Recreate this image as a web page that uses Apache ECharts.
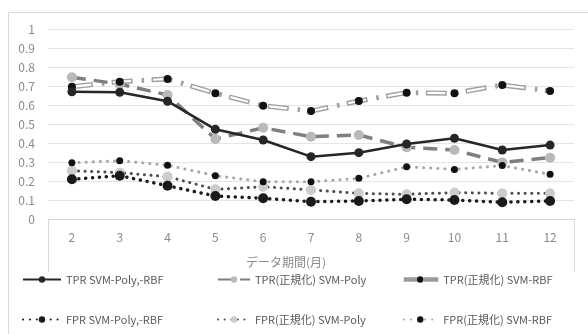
<!DOCTYPE html>
<html>
<head>
<meta charset="utf-8">
<script src="https://cdn.jsdelivr.net/npm/echarts@6/dist/echarts.min.js"></script>
<style>
  html, body { margin: 0; padding: 0; background: #ffffff; }
  #chart { width: 588px; height: 334px; }
</style>
</head>
<body>
<div id="chart"></div>
<script>
// Data period in months
const months = ['2', '3', '4', '5', '6', '7', '8', '9', '10', '11', '12'];
const yTicks = [0, 0.1, 0.2, 0.3, 0.4, 0.5, 0.6, 0.7, 0.8, 0.9, 1];

const tprPolyRbf     = [0.67, 0.667, 0.62, 0.472, 0.416, 0.328, 0.349, 0.395, 0.425, 0.363, 0.389];
const tprNormPoly    = [0.746, 0.71, 0.653, 0.421, 0.48, 0.433, 0.442, 0.377, 0.363, 0.298, 0.323];
const tprNormRbf     = [0.696, 0.723, 0.737, 0.662, 0.596, 0.568, 0.621, 0.665, 0.662, 0.705, 0.674];
const fprPolyRbf     = [0.209, 0.228, 0.175, 0.121, 0.109, 0.091, 0.095, 0.104, 0.1, 0.088, 0.095];
const fprNormPoly    = [0.254, 0.244, 0.223, 0.156, 0.17, 0.153, 0.135, 0.13, 0.139, 0.135, 0.135];
const fprNormRbf     = [0.296, 0.307, 0.283, 0.228, 0.196, 0.196, 0.214, 0.275, 0.261, 0.281, 0.235];

const names = [
  'TPR SVM-Poly,-RBF', 'TPR(正規化) SVM-Poly', 'TPR(正規化) SVM-RBF',
  'FPR SVM-Poly,-RBF', 'FPR(正規化) SVM-Poly', 'FPR(正規化) SVM-RBF'
];

const FONT = '"Noto Sans CJK JP", "Noto Sans", sans-serif';
const chart = echarts.init(document.getElementById('chart'), null, { renderer: 'canvas' });

const legendText = { color: '#595959', fontSize: 11, fontFamily: FONT };
function legendBlock(left, w, items) {
  return {
    orient: 'vertical', left: left, top: 274, itemGap: 29, padding: 0,
    itemWidth: w, itemHeight: 8, textStyle: legendText,
    data: items
  };
}

const option = {
  animation: false,
  backgroundColor: '#ffffff',
  grid: { left: 48, right: 14, top: 29, bottom: 115, containLabel: false },
  xAxis: {
    type: 'category', data: months, boundaryGap: true,
    axisLine: { show: true, lineStyle: { color: '#d4d4d4', width: 1 } },
    axisTick: { show: false },
    axisLabel: { color: '#8a8a8a', fontSize: 12, fontFamily: FONT, margin: 12 }
  },
  yAxis: {
    type: 'value', min: yTicks[0], max: yTicks[yTicks.length - 1], interval: 0.1,
    axisLine: { show: false }, axisTick: { show: false },
    axisLabel: { color: '#8a8a8a', fontSize: 12, fontFamily: FONT, margin: 13,
      formatter: v => String(Math.round(v * 10) / 10) },
    splitLine: { lineStyle: { color: '#e4e4e4', width: 1 } }
  },
  legend: [
    legendBlock(22, 38, [names[0], names[3]]),
    legendBlock(217, 32, [names[1], names[4]]),
    legendBlock(400, 36, [
      { name: names[2], lineStyle: { color: '#9a9a9a', width: 4.5, type: [16, 4] } },
      names[5]
    ])
  ],
  graphic: [
    { type: 'rect', shape: { x: 8.5, y: 12.5, width: 600, height: 400 },
      style: { fill: 'none', stroke: '#d9d9d9', lineWidth: 1 }, silent: true, z: -10 },
    { type: 'line', shape: { x1: 48.5, y1: 219, x2: 48.5, y2: 272 },
      style: { stroke: '#d9d9d9', lineWidth: 1 }, silent: true },
    { type: 'line', shape: { x1: 574.5, y1: 219, x2: 574.5, y2: 272 },
      style: { stroke: '#d9d9d9', lineWidth: 1 }, silent: true },
    { type: 'text', left: 246, top: 256,
      style: { text: 'データ期間(月)', fill: '#8a8a8a', fontSize: 12, fontFamily: FONT } }
  ],
  series: [
    {
      name: names[0], type: 'line', data: tprPolyRbf, z: 4,
      symbol: 'circle', symbolSize: 9,
      itemStyle: { color: '#262626' },
      lineStyle: { color: '#262626', width: 2.5 }
    },
    {
      name: names[1], type: 'line', data: tprNormPoly, z: 3,
      symbol: 'circle', symbolSize: 10,
      itemStyle: { color: '#b9b9b9' },
      lineStyle: { color: '#7f7f7f', width: 3.5, type: [14, 8], cap: 'butt' }
    },
    {
      // white core of the double line, with the point markers
      name: names[2], type: 'line', data: tprNormRbf, z: 3,
      symbol: 'circle', symbolSize: 8,
      itemStyle: { color: '#111111' },
      lineStyle: { color: '#ffffff', width: 2.2, type: [18, 22], dashOffset: -1.5, cap: 'butt' }
    },
    {
      // gray outline of the double line
      name: names[2], type: 'line', data: tprNormRbf, z: 2,
      symbol: 'none',
      itemStyle: { color: '#9a9a9a' },
      lineStyle: { color: '#a0a0a0', width: 5, type: [21, 9, 2.5, 7.5], cap: 'butt' }
    },
    {
      name: names[3], type: 'line', data: fprPolyRbf, z: 5,
      symbol: 'circle', symbolSize: 10,
      itemStyle: { color: '#1a1a1a' },
      lineStyle: { color: '#1a1a1a', width: 3.5, type: [0.1, 6.8], cap: 'round' }
    },
    {
      name: names[4], type: 'line', data: fprNormPoly, z: 4,
      symbol: 'circle', symbolSize: 10,
      itemStyle: { color: '#cccccc' },
      lineStyle: { color: '#4d4d4d', width: 3, type: [0.1, 6.5], cap: 'round' }
    },
    {
      name: names[5], type: 'line', data: fprNormRbf, z: 4,
      symbol: 'circle', symbolSize: 7,
      itemStyle: { color: '#111111' },
      lineStyle: { color: '#a6a6a6', width: 3, type: [0.1, 7], cap: 'round' }
    }
  ]
};

chart.setOption(option);
</script>
</body>
</html>
